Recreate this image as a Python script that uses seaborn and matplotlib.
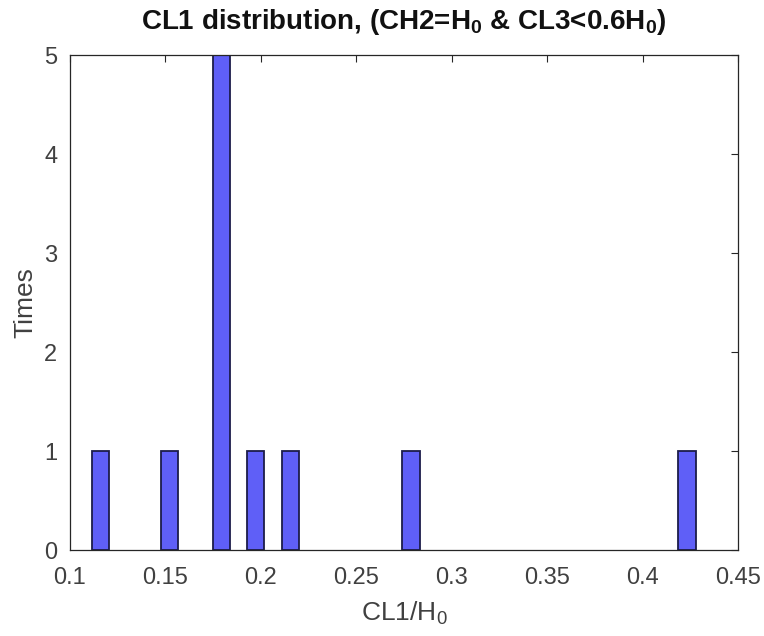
import numpy as np
import matplotlib
matplotlib.use("Agg")
import matplotlib.pyplot as plt
import seaborn as sns

# CL1/H0 samples (one value per occurrence)
cl1_ratio = [0.116, 0.152, 0.176, 0.178, 0.180, 0.181, 0.183,
             0.197, 0.215, 0.278, 0.423]
bin_start = 0.1114
bin_width = 0.00904
n_bins = 35
x_ticks = [0.1, 0.15, 0.2, 0.25, 0.3, 0.35, 0.4, 0.45]
x_tick_labels = ["0.1", "0.15", "0.2", "0.25", "0.3", "0.35", "0.4", "0.45"]
y_ticks = [0, 1, 2, 3, 4, 5]

sns.set_style("white")
plt.rcParams["font.family"] = ["Liberation Sans", "DejaVu Sans"]
plt.rcParams["mathtext.fontset"] = "custom"
plt.rcParams["mathtext.rm"] = "Liberation Sans"
plt.rcParams["mathtext.bf"] = "Liberation Sans:bold"

edges = bin_start + bin_width * np.arange(n_bins + 1)

fig = plt.figure(figsize=(7.64, 6.36), dpi=100)
ax = fig.add_axes([0.0916, 0.1352, 0.8743, 0.7783])

sns.histplot(x=cl1_ratio, bins=edges, color="#5f5ff7", edgecolor="#1c1c4a",
             linewidth=1.3, alpha=1, ax=ax)
# MATLAB doesn't outline empty bins
for p in ax.patches:
    if p.get_height() == 0:
        p.set_visible(False)

ax.set_xlim(0.1, 0.45)
ax.set_ylim(0, 5)
ax.set_xticks(x_ticks)
ax.set_xticklabels(x_tick_labels)
ax.set_yticks(y_ticks)
ax.tick_params(direction="in", length=5, width=0.8, colors="#262626",
               labelsize=17, top=True, right=True)
ax.tick_params(axis="x", labelcolor="#404040", pad=12)
ax.tick_params(axis="y", labelcolor="#404040", pad=9)
for s in ax.spines.values():
    s.set_color("#262626")
    s.set_linewidth(0.9)
    s.set_visible(True)

ax.set_title(r"CL1 distribution, (CH2=H$_\mathbf{0}$ & CL3<0.6H$_\mathbf{0}$)",
             fontsize=20, fontweight="bold", color="#111111", pad=19)
ax.set_xlabel(r"CL1/H$_0$", fontsize=19, color="#404040", labelpad=8)
ax.set_ylabel("Times", fontsize=19, color="#404040", labelpad=5)

fig.savefig("out.png", dpi=100)
